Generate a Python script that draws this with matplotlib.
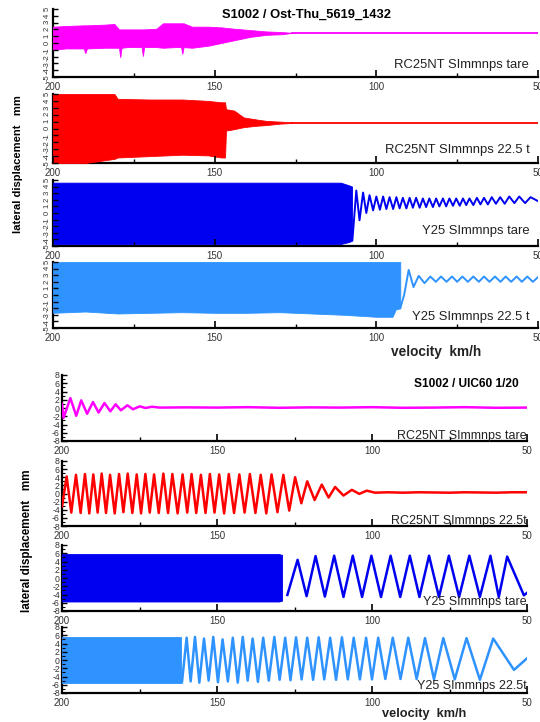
import matplotlib.pyplot as plt
import numpy as np
from matplotlib.ticker import FixedLocator

plt.rcParams['font.family'] = ['Liberation Sans', 'DejaVu Sans']

# ---------------- top block: S1002 / Ost-Thu_5619_1432 ----------------
# RC25NT tare (magenta): envelope of the dense hunting part, then flat
mag_env_v = [200, 196, 190.5, 190, 189.5, 184, 181, 179.6, 179.2, 178.8, 177, 172.6, 172.2, 171.8,
             168, 166, 162, 160.4, 160, 159.6, 157, 152, 148, 144, 139, 134, 129, 126]
mag_env_hi = [2.4, 2.5, 2.6, 2.6, 2.6, 2.7, 2.8, 2.0, 2.0, 2.0, 2.0, 2.0, 2.0, 2.0,
              2.1, 2.9, 2.9, 2.9, 2.9, 2.9, 2.4, 2.4, 2.3, 2.1, 1.9, 1.7, 1.6, 1.5]
mag_env_lo = [-1.0, -0.8, -0.8, -1.5, -0.8, -0.7, -0.7, -0.7, -2.1, -0.7, -0.6, -0.6, -1.9, -0.6,
              -0.6, -0.7, -0.6, -0.6, -1.6, -0.6, -0.7, -0.4, 0.0, 0.4, 0.9, 1.2, 1.3, 1.5]
mag_tail_v = [126, 50]
mag_tail_y = [1.5, 1.5]

# RC25NT 22.5 t (red)
red_env_v = [200, 190, 181, 180, 170, 160, 152, 148, 146.8, 146.5, 144, 141, 137, 134, 130, 126]
red_env_hi = [5.0, 5.0, 5.0, 4.3, 4.2, 4.2, 4.0, 3.8, 3.8, 2.8, 2.6, 1.6, 1.3, 1.1, 1.0, 0.9]
red_env_lo = [-5.0, -5.0, -4.4, -4.2, -4.0, -3.8, -3.9, -4.2, -4.2, -0.3, -0.1, 0.2, 0.4, 0.5, 0.7, 0.8]
red_tail_v = [126, 50]
red_tail_y = [0.85, 0.85]

# Y25 tare (blue)
blu_env_v = [200, 150, 111, 108.5, 107.5]
blu_env_hi = [4.6, 4.6, 4.6, 4.2, 4.0]
blu_env_lo = [-4.7, -4.7, -4.7, -4.4, -4.2]
blu_peak_v = [106.2, 104.1, 102.1, 100.0, 97.9, 95.9, 93.8, 91.8, 89.7, 87.7, 85.6, 83.6, 81.5,
              79.4, 77.4, 75.3, 73.2, 71.2, 68.9, 66.7, 64.3, 61.7, 58.9, 55.8, 52.3]
blu_peak_y = [3.4, 3.1, 2.7, 2.5, 2.5, 2.4, 2.4, 2.3, 2.3, 2.3, 2.2, 2.2, 2.2,
              2.2, 2.2, 2.2, 2.2, 2.2, 2.3, 2.3, 2.4, 2.4, 2.5, 2.5, 2.4]
blu_trough_v = [107.4, 105.2, 103.1, 101.0, 98.9, 96.9, 94.8, 92.8, 90.7, 88.7, 86.6, 84.6, 82.5,
                80.5, 78.4, 76.3, 74.2, 72.2, 70.0, 67.8, 65.5, 63.0, 60.3, 57.3, 54.0, 50.0]
blu_trough_y = [-4.1, -1.1, 0.0, 0.4, 0.5, 0.6, 0.6, 0.7, 0.7, 0.8, 0.8, 0.9, 0.9,
                1.0, 1.0, 1.1, 1.1, 1.2, 1.2, 1.3, 1.3, 1.4, 1.4, 1.5, 1.5, 1.8]

# Y25 22.5 t (light blue)
lbl_env_v = [200, 190, 180, 170, 160, 150, 140, 130, 120, 110, 100, 95, 94, 92.6]
lbl_env_hi = [5.0, 5.0, 5.0, 5.0, 5.0, 5.0, 5.0, 5.0, 5.0, 5.0, 5.0, 5.0, 5.0, 5.0]
lbl_env_lo = [-2.7, -2.5, -2.8, -2.7, -2.6, -2.7, -2.7, -2.6, -2.8, -3.0, -3.3, -3.3, -2.2, -2.0]
lbl_peak_v = [90.0, 86.9, 83.3, 80.0, 76.6, 73.4, 70.0, 66.7, 63.3, 60.0, 56.6, 53.3, 50.0]
lbl_peak_y = [3.8, 2.9, 2.8, 2.8, 2.8, 2.8, 2.8, 2.8, 2.8, 2.8, 2.8, 2.8, 2.7]
lbl_trough_v = [92.6, 91.4, 88.5, 85.1, 81.6, 78.3, 75.0, 71.7, 68.3, 65.0, 61.6, 58.3, 55.0, 51.6]
lbl_trough_y = [-2.0, 0.0, 1.2, 1.8, 2.0, 2.0, 2.0, 2.0, 2.0, 2.0, 2.0, 2.0, 2.0, 2.0]

# ---------------- bottom block: S1002 / UIC60 1/20 ----------------
# RC25NT tare (magenta)
bmag_v = [200, 199.5, 197.3, 195.4, 193.8, 191.9, 190.0, 188.2, 186.3, 184.4, 182.7, 181.0, 178.9, 177.1,
          174.9, 173.1, 171.0, 168.5, 160, 150, 140, 130, 120, 110, 100, 90, 80, 70, 60, 50]
bmag_y = [1.0, -2.4, 2.4, -1.9, 1.85, -1.4, 1.45, -1.1, 1.2, -0.8, 0.9, -0.55, 0.65, -0.3,
          0.4, 0.0, 0.3, 0.1, 0.15, 0.1, 0.2, 0.05, 0.15, 0.1, 0.2, 0.05, 0.1, 0.2, 0.05, 0.1]

# RC25NT 22.5t (red)
bred_peak_v = [198.5, 195.5, 192.6, 189.9, 187.2, 184.5, 181.6, 178.8, 175.9, 173.1, 170.3, 167.3, 164.4, 161.1, 158.2,
               155.2, 152.3, 149.3, 146.2, 142.8, 139.4, 135.9, 132.4, 128.6, 124.8, 120.9, 116.2, 111.9, 106.5, 101.7]
bred_peak_y = [4.2, 4.6, 4.8, 4.7, 4.9, 4.6, 4.8, 4.9, 4.7, 4.8, 4.7, 4.9, 4.8, 4.7, 4.8,
               4.6, 4.8, 4.7, 4.8, 4.7, 4.8, 4.6, 4.7, 4.6, 4.0, 3.0, 2.2, 1.6, 0.9, 0.7]
bred_trough_v = [200, 197.0, 194.0, 191.2, 188.5, 185.8, 183.0, 180.2, 177.3, 174.5, 171.7, 168.8, 165.8, 162.7, 159.6,
                 156.7, 153.7, 150.8, 147.7, 144.5, 141.1, 137.6, 134.1, 130.5, 126.7, 122.8, 118.5, 114.0, 109.2, 104.1]
bred_trough_y = [-3.2, -4.7, -4.8, -4.9, -4.7, -4.8, -4.9, -4.6, -4.8, -4.9, -4.7, -4.8, -4.8, -4.9, -4.7,
                 -4.8, -4.8, -4.7, -4.9, -4.8, -4.7, -4.8, -4.9, -4.6, -4.2, -2.4, -1.6, -1.0, -0.5, -0.1]
bred_tail_v = [99, 95, 90, 85, 80, 75, 70, 65, 60, 55, 50]
bred_tail_y = [0.2, 0.3, 0.2, 0.3, 0.25, 0.2, 0.3, 0.25, 0.2, 0.3, 0.3]

# Y25 tare (blue)
bblu_env_v = [200, 170, 140, 130, 129.0]
bblu_env_hi = [5.8, 5.8, 5.8, 5.8, 5.6]
bblu_env_lo = [-5.7, -5.7, -5.7, -5.7, -5.5]
bblu_peak_v = [124.0, 118.2, 112.2, 106.2, 100.2, 94.0, 87.8, 81.6, 75.2, 68.6, 61.8, 56.4]
bblu_peak_y = [4.4, 5.3, 5.4, 5.4, 5.4, 5.4, 5.4, 5.4, 5.4, 5.4, 5.4, 5.2]
bblu_trough_v = [127.3, 121.1, 115.2, 109.2, 103.2, 97.1, 90.9, 84.7, 78.4, 71.9, 65.2, 59.1, 51.0, 50.0]
bblu_trough_y = [-4.1, -4.4, -4.5, -4.6, -4.6, -4.6, -4.6, -4.6, -4.6, -4.6, -4.6, -4.6, -4.2, -3.6]

# Y25 22.5t (light blue)
blbl_env_v = [200, 180, 161.5]
blbl_env_hi = [5.6, 5.6, 5.6]
blbl_env_lo = [-5.6, -5.6, -5.6]
blbl_peak_v = [159.8, 157.1, 154.2, 151.2, 148.2, 144.9, 141.7, 138.5, 135.1, 131.5, 128.0, 124.5, 120.9,
               117.2, 113.5, 109.7, 105.9, 101.9, 98.0, 93.3, 88.3, 82.9, 77.0, 69.5, 60.9]
blbl_peak_y = [5.4, 5.6, 5.2, 5.6, 5.0, 5.4, 5.6, 5.2, 5.4, 5.6, 5.4, 5.5, 5.4,
               5.5, 5.4, 5.5, 5.4, 5.4, 5.4, 5.4, 5.4, 5.3, 5.3, 5.3, 5.2]
blbl_trough_v = [161.3, 158.5, 155.7, 152.7, 149.7, 146.5, 143.3, 140.1, 136.8, 133.3, 129.8, 126.3, 122.7,
                 119.0, 115.4, 111.6, 107.8, 103.9, 100.0, 95.7, 90.8, 85.6, 80.0, 73.3, 65.2, 54.2, 50.0]
blbl_trough_y = [-5.4, -5.2, -5.5, -5.0, -5.4, -5.2, -5.5, -5.0, -5.3, -5.0, -4.8, -4.9, -4.7,
                 -4.8, -4.7, -4.8, -4.7, -4.7, -4.7, -4.6, -4.6, -4.6, -4.7, -4.7, -4.8, -2.4, 0.4]

top_labels = ['RC25NT SImmnps tare', 'RC25NT SImmnps 22.5 t', 'Y25 SImmnps tare', 'Y25 SImmnps 22.5 t']
bot_labels = ['RC25NT SImmnps tare', 'RC25NT SImmnps 22.5t', 'Y25 SImmnps tare', 'Y25 SImmnps 22.5t']

MAG = '#ff00ff'
RED = '#ff0000'
BLU = '#0000f0'
LBL = '#2e93ff'

W, H = 540.0, 722.0


def zigzag(pv, py, tv, ty):
    v = np.array(pv + tv)
    y = np.array(py + ty)
    o = np.argsort(-v)
    return v[o], y[o]


def make_ax(fig, left, right, top, bottom):
    return fig.add_axes([left / W, 1 - bottom / H, (right - left) / W, (bottom - top) / H])


def setup(ax, lim, yticks, yminor, rot, ysize):
    ax.set_xlim(200, 50)
    ax.set_ylim(-lim, lim)
    ax.patch.set_visible(False)
    for s in ['top', 'right']:
        ax.spines[s].set_visible(False)
    for s in ['left', 'bottom']:
        ax.spines[s].set_linewidth(1.6)
        ax.spines[s].set_zorder(0.5)
    ax.xaxis.set_major_locator(FixedLocator([200, 150, 100, 50]))
    ax.xaxis.set_minor_locator(FixedLocator([175, 125, 75]))
    ax.set_xticklabels(['200', '150', '100', '50'])
    ax.set_yticks(yticks)
    ax.set_yticklabels([str(t) for t in yticks])
    if yminor:
        ax.yaxis.set_minor_locator(FixedLocator(yminor))
    ax.tick_params(axis='x', which='major', direction='in', length=5, width=1.2,
                   labelsize=7, pad=3.5, labelcolor='#333333')
    ax.tick_params(axis='x', which='minor', direction='in', length=3, width=1)
    ax.tick_params(axis='y', which='major', direction='in', length=3.5, width=1, labelsize=ysize,
                   pad=1.5, labelrotation=rot, labelcolor='#333333')
    ax.tick_params(axis='y', which='minor', direction='in', length=2, width=0.8)


fig = plt.figure(figsize=(5.4, 7.22), dpi=100)

top_rows = [(9, 77), (94, 163), (180, 246), (262, 328)]
bot_rows = [(375, 441), (461, 526), (545, 611), (627, 693)]

tax = [make_ax(fig, 53, 538, t, b) for t, b in top_rows]
bax = [make_ax(fig, 62, 527, t, b) for t, b in bot_rows]

for ax in tax:
    setup(ax, 5, list(range(-5, 6)), None, 90, 5.5)
for ax in bax:
    setup(ax, 8, list(range(-8, 9, 2)), list(range(-7, 8, 2)), 0, 6.3)

# top block
ax = tax[0]
ax.fill_between(mag_env_v, mag_env_lo, mag_env_hi, color=MAG, lw=0.6, zorder=1)
ax.plot(mag_tail_v, mag_tail_y, color=MAG, lw=1.3)

ax = tax[1]
ax.fill_between(red_env_v, red_env_lo, red_env_hi, color=RED, lw=0.6, zorder=1)
ax.plot(red_tail_v, red_tail_y, color=RED, lw=1.3)

ax = tax[2]
ax.fill_between(blu_env_v, blu_env_lo, blu_env_hi, color=BLU, lw=0.6, zorder=1)
v, y = zigzag(blu_peak_v, blu_peak_y, blu_trough_v, blu_trough_y)
ax.plot(v, y, color=BLU, lw=1.4, solid_joinstyle='round')

ax = tax[3]
ax.fill_between(lbl_env_v, lbl_env_lo, lbl_env_hi, color=LBL, lw=0.6, zorder=1)
v, y = zigzag(lbl_peak_v, lbl_peak_y, lbl_trough_v, lbl_trough_y)
ax.plot(v, y, color=LBL, lw=1.4, solid_joinstyle='round')

# bottom block
ax = bax[0]
ax.plot(bmag_v, bmag_y, color=MAG, lw=1.8, solid_joinstyle='round')

ax = bax[1]
v, y = zigzag(bred_peak_v, bred_peak_y, bred_trough_v, bred_trough_y)
ax.plot(list(v) + bred_tail_v, list(y) + bred_tail_y, color=RED, lw=1.8, solid_joinstyle='round')

ax = bax[2]
ax.fill_between(bblu_env_v, bblu_env_lo, bblu_env_hi, color=BLU, lw=0.6, zorder=1)
v, y = zigzag(bblu_peak_v, bblu_peak_y, bblu_trough_v, bblu_trough_y)
ax.plot(v, y, color=BLU, lw=1.8, solid_joinstyle='round')

ax = bax[3]
ax.fill_between(blbl_env_v, blbl_env_lo, blbl_env_hi, color=LBL, lw=0.6, zorder=1)
v, y = zigzag(blbl_peak_v, blbl_peak_y, blbl_trough_v, blbl_trough_y)
ax.plot(v, y, color=LBL, lw=1.8, solid_joinstyle='round')

# series names
for ax, lab, yy in zip(tax, top_labels, [0.18, 0.19, 0.22, 0.17]):
    ax.text(0.982, yy, lab, transform=ax.transAxes, ha='right', va='center',
            fontsize=9.4, color='#222222')
for ax, lab, yy in zip(bax, bot_labels, [0.08, 0.07, 0.13, 0.1]):
    ax.text(1.0, yy, lab, transform=ax.transAxes, ha='right', va='center',
            fontsize=9, color='#222222')

fig.text(307 / W, 1 - 15 / H, 'S1002 / Ost-Thu_5619_1432', ha='center', va='center',
         fontsize=9.3, fontweight='bold')
fig.text(466 / W, 1 - 384 / H, 'S1002 / UIC60 1/20', ha='center', va='center',
         fontsize=8.6, fontweight='bold')

fig.text(436 / W, 1 - 352 / H, 'velocity  km/h', ha='center', va='center',
         fontsize=9.8, fontweight='bold', color='#222222')
fig.text(424 / W, 1 - 714 / H, 'velocity  km/h', ha='center', va='center',
         fontsize=9.2, fontweight='bold', color='#222222')

fig.text(18 / W, 1 - 164 / H, 'lateral displacement   mm', rotation=90, ha='center', va='center',
         fontsize=8.1, fontweight='bold')
fig.text(27 / W, 1 - 541 / H, 'lateral displacement   mm', rotation=90, ha='center', va='center',
         fontsize=8.4, fontweight='bold')

fig.savefig('out.png', dpi=100)
